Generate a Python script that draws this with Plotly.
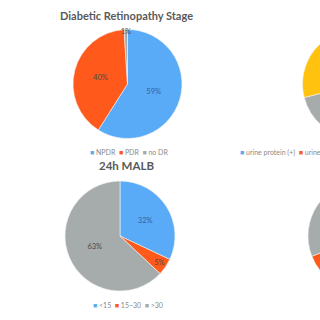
import plotly.graph_objects as go

# ---- data ----
dr_labels = ["NPDR", "PDR", "no DR"]
dr_values = [59, 40, 1]
malb_labels = ["<15", "15~30", ">30"]
malb_values = [32, 5, 63]
up_labels = ["urine protein (+)", "urine protein (++)", "urine protein (+++)", "urine protein (-)"]
up_values = [33, 18, 20, 29]
p4_labels = ["<7", "7~9", ">9"]
p4_values = [60, 9, 31]

titles = ["Diabetic Retinopathy Stage", "24h MALB"]

BLUE, ORANGE, GRAY, YELLOW = "#5aabf7", "#ff5a1c", "#a6abab", "#ffc20e"

W, H = 420, 320
FONT = "Lato"

def dom(cx, cy, r):
    return dict(x=[(cx - r) / W, (cx + r) / W], y=[1 - (cy + r) / H, 1 - (cy - r) / H])

def tcol(colors):
    return ["#35609e" if c == BLUE else "#4a4a4a" for c in colors]

fig = go.Figure()
pies = [
    (dr_labels, dr_values, [BLUE, ORANGE, GRAY], (127.5, 84, 54.5)),
    (malb_labels, malb_values, [BLUE, ORANGE, GRAY], (120, 236, 55)),
    (up_labels, up_values, [BLUE, ORANGE, GRAY, YELLOW], (357, 84, 54.5)),
    (p4_labels, p4_values, [BLUE, ORANGE, GRAY], (363, 236, 55)),
]
for labels, values, colors, (cx, cy, r) in pies:
    fig.add_trace(go.Pie(
        labels=labels, values=values, sort=False, direction="clockwise", rotation=0,
        marker=dict(colors=colors, line=dict(color="#f4f4f4", width=0.6)),
        texttemplate="%{percent:.0%}", textposition="inside",
        insidetextorientation="horizontal",
        textfont=dict(size=7.5, color=tcol(colors), family=FONT),
        domain=dom(cx, cy, r), showlegend=False, hoverinfo="label+percent",
    ))

# titles
for t, (x, y, s) in zip(titles, [(127, 15, 11), (126, 165, 11.5)]):
    fig.add_annotation(text=f"<b>{t}</b>", x=x / W, y=1 - y / H, xref="paper", yref="paper",
                       xanchor="center", yanchor="middle", showarrow=False,
                       font=dict(size=s, color="#595959", family=FONT))

# legends (built from labels / colours)
def legend_text(labels, colors):
    return "  ".join(f"<span style='color:{c}'>■</span> {l}" for l, c in zip(labels, colors))

legs = [
    (dr_labels, [BLUE, ORANGE, GRAY], 129, 152, "center"),
    (malb_labels, [BLUE, ORANGE, GRAY], 128, 305, "center"),
    (up_labels, [BLUE, ORANGE, GRAY, YELLOW], 238, 152, "left"),
    (p4_labels, [BLUE, ORANGE, GRAY], 363, 305, "center"),
]
for labels, colors, x, y, anc in legs:
    fig.add_annotation(text=legend_text(labels, colors), x=x / W, y=1 - y / H,
                       xref="paper", yref="paper", xanchor=anc, yanchor="middle", showarrow=False,
                       font=dict(size=7, color="#8a8a8a", family=FONT))

fig.update_layout(width=W, height=H, margin=dict(l=0, r=0, t=0, b=0),
                  paper_bgcolor="white", plot_bgcolor="white",
                  uniformtext=dict(minsize=7, mode="show"))

fig.write_html("out.html")
